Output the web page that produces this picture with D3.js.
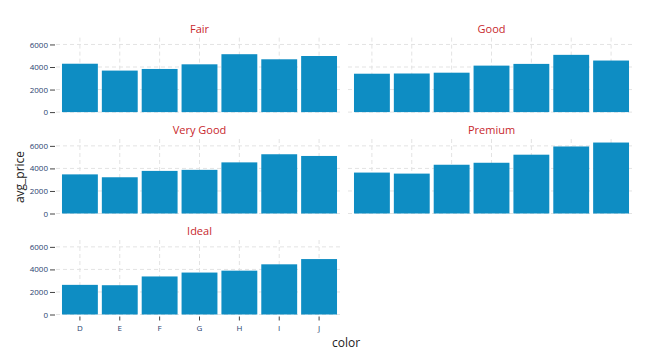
<!DOCTYPE html>
<html>
<head>
<meta charset="utf-8">
<script src="https://cdn.jsdelivr.net/npm/d3@7"></script>
<style>
  body { margin: 0; background: #fff; }
  svg text { font-family: "Open Sans", "DejaVu Sans", sans-serif; }
</style>
</head>
<body>
<div id="chart"></div>
<script>
// ---------- data ----------
const colors = ["D", "E", "F", "G", "H", "I", "J"];
const cuts = ["Fair", "Good", "Very Good", "Premium", "Ideal"];
const fairPrice = [4291, 3682, 3827, 4239, 5136, 4685, 4976];
const goodPrice = [3405, 3424, 3496, 4123, 4276, 5079, 4574];
const veryGoodPrice = [3470, 3215, 3779, 3873, 4535, 5256, 5104];
const premiumPrice = [3631, 3539, 4325, 4501, 5217, 5946, 6295];
const idealPrice = [2629, 2598, 3375, 3721, 3889, 4452, 4918];
const yTicks = [0, 2000, 4000, 6000];

const seriesByCut = {
  "Fair": fairPrice,
  "Good": goodPrice,
  "Very Good": veryGoodPrice,
  "Premium": premiumPrice,
  "Ideal": idealPrice
};

// ----- layout -----
const width = 655, height = 361;
const colX = [[56, 343], [348, 635]];
const rowTop = [37.6, 139, 240];
const panelH = 74.5;

const svg = d3.select("#chart").append("svg")
  .attr("width", width)
  .attr("height", height);

const y = d3.scaleLinear().domain([0, 6609]).range([panelH, 0]);

cuts.forEach((cut, i) => {
  const col = i % 2, row = Math.floor(i / 2);
  const [x0, x1] = colX[col];
  const pw = x1 - x0;

  const x = d3.scaleBand().domain(colors).range([0, pw])
    .paddingInner(0.1).paddingOuter(0.15);

  const g = svg.append("g").attr("transform", `translate(${x0},${rowTop[row]})`);

  // grid
  g.selectAll(".hgrid").data(yTicks).join("line")
    .attr("x1", 0).attr("x2", pw)
    .attr("y1", d => y(d)).attr("y2", d => y(d))
    .attr("stroke", "#e3e3e3").attr("stroke-dasharray", "4,3");
  g.selectAll(".vgrid").data(colors).join("line")
    .attr("x1", d => x(d) + x.bandwidth() / 2).attr("x2", d => x(d) + x.bandwidth() / 2)
    .attr("y1", 0).attr("y2", panelH)
    .attr("stroke", "#e3e3e3").attr("stroke-dasharray", "4,3");

  // bars
  const vals = seriesByCut[cut];
  g.selectAll("rect").data(colors).join("rect")
    .attr("x", d => x(d))
    .attr("width", x.bandwidth())
    .attr("y", (d, j) => y(vals[j]))
    .attr("height", (d, j) => y(0) - y(vals[j]))
    .attr("fill", "#0e8dc3");

  // facet title
  g.append("text")
    .attr("x", pw / 2).attr("y", -5)
    .attr("text-anchor", "middle")
    .attr("font-size", 11)
    .attr("fill", "#c8282d")
    .text(cut);

  // y axis on left column
  if (col === 0) {
    const ya = g.append("g").call(d3.axisLeft(y).tickValues(yTicks)
      .tickFormat(d3.format("d")).tickSize(5).tickPadding(3));
    ya.select(".domain").remove();
    ya.selectAll("line").attr("stroke", "#444").attr("transform", "translate(-1,0)");
    ya.selectAll("text").attr("font-size", 8).attr("fill", "#2a3f6f")
      .attr("font-family", "\"Open Sans\", \"DejaVu Sans\", sans-serif");
  }

  // x axis only on last row
  if (cut === "Ideal") {
    const xa = g.append("g").attr("transform", `translate(0,${panelH + 2})`)
      .call(d3.axisBottom(x).tickSize(4).tickPadding(5));
    xa.select(".domain").remove();
    xa.selectAll("line").attr("stroke", "#444");
    xa.selectAll("text").attr("font-size", 8).attr("fill", "#2a3f6f")
      .attr("font-family", "\"Open Sans\", \"DejaVu Sans\", sans-serif");
  }
});

// axis titles
svg.append("text")
  .attr("x", 346).attr("y", 347)
  .attr("text-anchor", "middle")
  .attr("font-size", 12)
  .attr("fill", "#222")
  .text("color");

svg.append("text")
  .attr("transform", "translate(24,177) rotate(-90)")
  .attr("text-anchor", "middle")
  .attr("font-size", 12)
  .attr("fill", "#222")
  .text("avg_price");
</script>
</body>
</html>
